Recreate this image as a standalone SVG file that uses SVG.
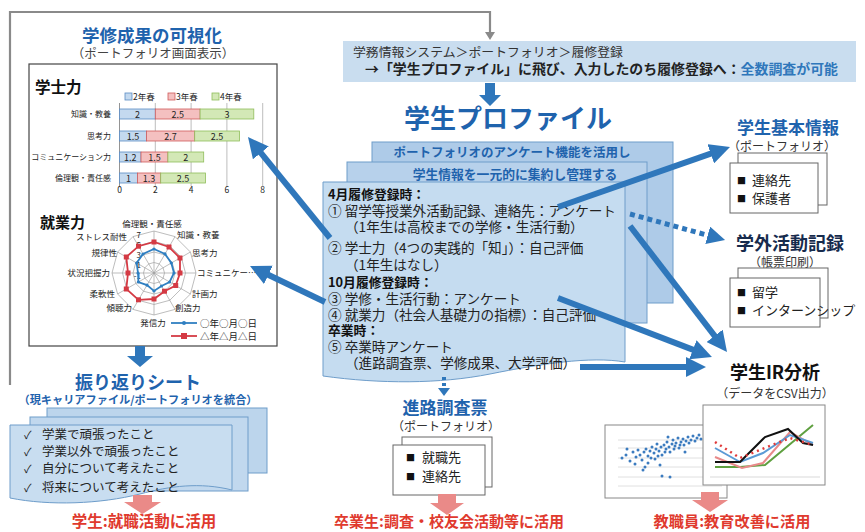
<svg xmlns="http://www.w3.org/2000/svg" width="865" height="532" viewBox="0 0 865 532">
<style>
text{font-family:"Noto Sans CJK JP","Noto Sans",sans-serif;}
.bt{fill:#1f63ad;font-weight:bold}
.red{fill:#e03a2e;font-weight:bold}
.dk{fill:#222}
.sm{font-size:8px;fill:#222}
.rl{font-size:8.5px;fill:#222}
.bv{font-size:9px;fill:#222;text-anchor:middle}
.sheet{stroke:#6e9dca;stroke-width:1}
.box{fill:#fff;stroke:#666;stroke-width:1}
.conn{stroke:#2f77bb;stroke-width:6;fill:none}
.pink{fill:#ea8a88}
.grid{stroke:#a0a0a0;stroke-width:0.7;fill:none}
.bB{fill:#c4d9ef;stroke:#5b8cc4;stroke-width:0.8}
.bR{fill:#f4c0c0;stroke:#d05a5a;stroke-width:0.8}
.bG{fill:#d3e8b6;stroke:#8fbd5a;stroke-width:0.8}
.it{font-size:13px;fill:#222}
.sq{font-size:9px;fill:#111}
.doc{font-size:13.6px;fill:#222}
.hd{font-size:12.8px;fill:#111;font-weight:bold}
</style>
<defs>
<marker id="ah" viewBox="0 0 10 10" refX="3" refY="5" markerWidth="3.4" markerHeight="3.4" orient="auto" markerUnits="strokeWidth"><path d="M0,0 L10,5 L0,10 Z" fill="#2f77bb"/></marker>
<marker id="ahd" viewBox="0 0 10 10" refX="3" refY="5" markerWidth="3.6" markerHeight="3.6" orient="auto" markerUnits="strokeWidth"><path d="M0,0 L10,5 L0,10 Z" fill="#2f77bb"/></marker>
</defs>
<rect width="865" height="532" fill="#fff"/>

<!-- Left panel -->
<g id="visualization">
<text x="152" y="42" class="bt" font-size="17.5" text-anchor="middle">学修成果の可視化</text>
<text x="153" y="58" font-size="12.5" fill="#444" text-anchor="middle">（ポートフォリオ画面表示）</text>
<rect x="29" y="64" width="248" height="282" fill="#fff" stroke="#444" stroke-width="1.2"/>
<text x="35" y="93" font-size="15.5" font-weight="bold" fill="#111">学士力</text>
<rect x="125" y="93" width="7" height="7" class="bB"/><text x="133" y="100" font-size="8.5" fill="#222">2年春</text>
<rect x="168" y="93" width="7" height="7" class="bR"/><text x="176" y="100" font-size="8.5" fill="#222">3年春</text>
<rect x="212" y="93" width="7" height="7" class="bG"/><text x="220" y="100" font-size="8.5" fill="#222">4年春</text>
<g class="grid">
<line x1="155.3" y1="103" x2="155.3" y2="186"/><line x1="191.1" y1="103" x2="191.1" y2="186"/><line x1="226.9" y1="103" x2="226.9" y2="186"/><line x1="262.7" y1="103" x2="262.7" y2="186"/>
</g>
<line x1="119.5" y1="103" x2="119.5" y2="186" stroke="#888" stroke-width="0.9"/>
<rect x="119.5" y="109" width="35.8" height="10" class="bB"/><rect x="155.3" y="109" width="44.8" height="10" class="bR"/><rect x="200.1" y="109" width="53.7" height="10" class="bG"/>
<rect x="119.5" y="131" width="26.9" height="10" class="bB"/><rect x="146.4" y="131" width="48.3" height="10" class="bR"/><rect x="194.7" y="131" width="44.8" height="10" class="bG"/>
<rect x="119.5" y="152" width="21.5" height="10" class="bB"/><rect x="141" y="152" width="26.9" height="10" class="bR"/><rect x="167.9" y="152" width="35.8" height="10" class="bG"/>
<rect x="119.5" y="173" width="17.9" height="10" class="bB"/><rect x="137.4" y="173" width="23.3" height="10" class="bR"/><rect x="160.7" y="173" width="44.8" height="10" class="bG"/>
<text x="137.4" y="117.5" class="bv">2</text><text x="177.7" y="117.5" class="bv">2.5</text><text x="227" y="117.5" class="bv">3</text>
<text x="133" y="139.5" class="bv">1.5</text><text x="170.6" y="139.5" class="bv">2.7</text><text x="217" y="139.5" class="bv">2.5</text>
<text x="130.3" y="160.5" class="bv">1.2</text><text x="154.4" y="160.5" class="bv">1.5</text><text x="185.7" y="160.5" class="bv">2</text>
<text x="128.5" y="181.5" class="bv">1</text><text x="149" y="181.5" class="bv">1.3</text><text x="183.1" y="181.5" class="bv">2.5</text>
<g class="sm" text-anchor="end" font-size="7.6">
<text x="111" y="117">知識・教養</text><text x="111" y="139">思考力</text><text x="111" y="160">コミュニケーション力</text><text x="111" y="181">倫理観・責任感</text>
</g>
<g font-size="8.5" fill="#222" text-anchor="middle">
<text x="119.5" y="193">0</text><text x="155.3" y="193">2</text><text x="191.1" y="193">4</text><text x="226.9" y="193">6</text><text x="262.7" y="193">8</text>
</g>
<text x="40" y="228" font-size="15" font-weight="bold" fill="#111">就業力</text>
<g class="grid" stroke="#8a8a8a">
<polygon points="154,231 175,236.6 190.4,252 196,273 190.4,294 175,309.4 154,315 133,309.4 117.6,294 112,273 117.6,252 133,236.6"/>
<polygon points="154,241.5 169.75,245.72 181.28,257.25 185.5,273 181.28,288.75 169.75,300.28 154,304.5 138.25,300.28 126.72,288.75 122.5,273 126.72,257.25 138.25,245.72"/>
<polygon points="154,252 164.5,254.81 172.19,262.5 175,273 172.19,283.5 164.5,291.19 154,294 143.5,291.19 135.81,283.5 133,273 135.81,262.5 143.5,254.81"/>
<polygon points="154,262.5 159.25,263.91 163.09,267.75 164.5,273 163.09,278.25 159.25,282.09 154,283.5 148.75,282.09 144.91,278.25 143.5,273 144.91,267.75 148.75,263.91"/>
<line x1="154" y1="231" x2="154" y2="315"/><line x1="175" y1="236.6" x2="133" y2="309.4"/><line x1="190.4" y1="252" x2="117.6" y2="294"/>
<line x1="196" y1="273" x2="112" y2="273"/><line x1="190.4" y1="294" x2="117.6" y2="252"/><line x1="175" y1="309.4" x2="133" y2="236.6"/>
</g>
<g font-size="8" fill="#222" text-anchor="end">
<text x="141" y="238">7</text><text x="141" y="247.5">5</text><text x="141" y="258">3</text><text x="141" y="268">1</text><text x="141" y="278.5">-1</text>
</g>
<polygon points="154,249 165,253.95 171.32,263 174,273 169.59,282 161.5,285.99 154,291 147,285.12 138.41,282 138,273 136.68,263 143,253.95" fill="none" stroke="#2f7fc1" stroke-width="1.8"/>
<polygon points="154,242 169,247 180,258 180,273 175.7,285.5 164.5,291.2 154,299 138.5,299.8 126.3,289 128,273 126.3,257 138.5,246.2" fill="none" stroke="#d43a44" stroke-width="1.8"/>
<g fill="#d43a44">
<rect x="151.5" y="239.5" width="5" height="5"/><rect x="166.5" y="244.5" width="5" height="5"/><rect x="177.5" y="255.5" width="5" height="5"/><rect x="177.5" y="270.5" width="5" height="5"/><rect x="173.2" y="283" width="5" height="5"/><rect x="162" y="288.7" width="5" height="5"/><rect x="151.5" y="296.5" width="5" height="5"/><rect x="136" y="297.3" width="5" height="5"/><rect x="123.8" y="286.5" width="5" height="5"/><rect x="125.5" y="270.5" width="5" height="5"/><rect x="123.8" y="254.5" width="5" height="5"/><rect x="136" y="243.7" width="5" height="5"/>
</g>
<g fill="#2f7fc1">
<circle cx="154" cy="249" r="1.6"/><circle cx="165" cy="253.95" r="1.6"/><circle cx="171.32" cy="263" r="1.6"/><circle cx="174" cy="273" r="1.6"/><circle cx="169.59" cy="282" r="1.6"/><circle cx="161.5" cy="286" r="1.6"/><circle cx="154" cy="291" r="1.6"/><circle cx="147" cy="285.1" r="1.6"/><circle cx="138.4" cy="282" r="1.6"/><circle cx="138" cy="273" r="1.6"/><circle cx="136.7" cy="263" r="1.6"/><circle cx="143" cy="254" r="1.6"/>
</g>
<g class="rl">
<text x="152" y="227" text-anchor="middle">倫理観・責任感</text>
<text x="177" y="238">知識・教養</text>
<text x="192" y="256">思考力</text>
<text x="197" y="276">コミュニケー…</text>
<text x="192" y="297">計画力</text>
<text x="175" y="311">創造力</text>
<text x="153" y="326" text-anchor="middle">発信力</text>
<text x="132" y="311" text-anchor="end">傾聴力</text>
<text x="115" y="297" text-anchor="end">柔軟性</text>
<text x="110" y="276" text-anchor="end">状況把握力</text>
<text x="117" y="256" text-anchor="end">規律性</text>
<text x="127" y="240" text-anchor="end">ストレス耐性</text>
</g>
<line x1="171" y1="323" x2="197" y2="323" stroke="#2f7fc1" stroke-width="1.8"/><circle cx="184" cy="323" r="2" fill="#2f7fc1"/>
<text x="200" y="326.5" font-size="9.5" fill="#222">○年○月○日</text>
<line x1="171" y1="336" x2="197" y2="336" stroke="#d43a44" stroke-width="1.8"/><rect x="181" y="333" width="6" height="6" fill="#d43a44"/>
<text x="200" y="339.5" font-size="9.5" fill="#222">△年△月△日</text>
</g>

<!-- Reflection sheet -->
<g id="reflection-sheet">
<text x="138" y="389" class="bt" font-size="18" text-anchor="middle">振り返りシート</text>
<text x="138" y="404" class="bt" font-size="11" text-anchor="middle" textLength="239" lengthAdjust="spacingAndGlyphs">（現キャリアファイル/ポートフォリオを統合）</text>
<rect x="47" y="408" width="220" height="65" fill="#bcd5ec" class="sheet"/>
<rect x="30" y="417" width="218" height="74" fill="#c1d8ee" class="sheet"/>
<path d="M10,425 H232 V490 C 200,482 170,486 140,494 C 100,504 50,506 10,498 Z" fill="#c8ddf0" class="sheet"/>
<g class="dk" font-size="12.5">
<text x="24" y="439" font-size="11">✓</text><text x="42" y="439">学業で頑張ったこと</text>
<text x="24" y="456" font-size="11">✓</text><text x="42" y="456">学業以外で頑張ったこと</text>
<text x="24" y="473" font-size="11">✓</text><text x="42" y="473">自分について考えたこと</text>
<text x="24" y="492" font-size="11">✓</text><text x="42" y="492">将来について考えたこと</text>
</g>
<text x="144" y="527" class="red" font-size="15.5" text-anchor="middle">学生:就職活動に活用</text>
</g>

<!-- Top registration box -->
<g id="registration">
<rect x="343" y="41" width="513" height="41" fill="#c9ddef"/>
<text x="353" y="57" font-size="12.5" fill="#333" textLength="270" lengthAdjust="spacingAndGlyphs">学務情報システム＞ポートフォリオ＞履修登録</text>
<text x="365" y="74" font-size="13.2" font-weight="bold" fill="#222" textLength="473" lengthAdjust="spacingAndGlyphs">→「学生プロファイル」に飛び、入力したのち履修登録へ：<tspan fill="#2f77bb">全数調査が可能</tspan></text>
</g>

<!-- Student profile -->
<g id="student-profile">
<text x="508" y="128" class="bt" font-size="26" text-anchor="middle">学生プロファイル</text>
<rect x="372" y="142" width="301" height="161" fill="#aecbe8" class="sheet"/>
<text x="512" y="157" class="bt" font-size="12.5" text-anchor="middle">ポートフォリオのアンケート機能を活用し</text>
<rect x="347" y="162" width="300" height="161" fill="#b7d1eb" class="sheet"/>
<text x="515" y="179" class="bt" font-size="12.8" text-anchor="middle">学生情報を一元的に集約し管理する</text>
<path d="M323,182 H625 V362 C 590,356 540,364 490,374 C 440,384 380,384 323,376 Z" fill="#c5dcf0" class="sheet"/>
<text x="328" y="198.5" class="hd">4月履修登録時：</text>
<text x="328" y="215.5" class="doc">① 留学等授業外活動記録、連絡先：アンケート</text>
<text x="345" y="232" class="doc">（1年生は高校までの学修・生活行動）</text>
<text x="328" y="253" class="doc">② 学士力（4つの実践的「知」）：自己評価</text>
<text x="345" y="270" class="doc">（1年生はなし）</text>
<text x="328" y="286.5" class="hd">10月履修登録時：</text>
<text x="328" y="303.5" class="doc">③ 学修・生活行動：アンケート</text>
<text x="328" y="319.5" class="doc">④ 就業力（社会人基礎力の指標）：自己評価</text>
<text x="328" y="335" class="hd">卒業時：</text>
<text x="328" y="352" class="doc">⑤ 卒業時アンケート</text>
<text x="345" y="368" class="doc">（進路調査票、学修成果、大学評価）</text>
</g>

<!-- Student basic info -->
<g id="basic-info">
<text x="788" y="134" class="bt" font-size="17" text-anchor="middle">学生基本情報</text>
<text x="782" y="151" font-size="12" fill="#333" text-anchor="middle">（ポートフォリオ）</text>
<rect x="738" y="153" width="89" height="52" class="box"/>
<rect x="730" y="163" width="88" height="50" class="box"/>
<text x="737" y="184" class="sq">■</text><text x="752" y="185" class="it">連絡先</text>
<text x="737" y="202" class="sq">■</text><text x="752" y="203" class="it">保護者</text>
</g>

<!-- Extracurricular record -->
<g id="activity-record">
<text x="790" y="250" font-size="18" font-weight="bold" fill="#172b4d" text-anchor="middle">学外活動記録</text>
<text x="785" y="267" font-size="12" fill="#333" text-anchor="middle">（帳票印刷）</text>
<rect x="738" y="268" width="90" height="50" class="box"/>
<rect x="730" y="278" width="90" height="49" class="box"/>
<text x="737" y="296" class="sq">■</text><text x="752" y="297" class="it">留学</text>
<text x="737" y="314" class="sq">■</text><text x="752" y="315" class="it" font-size="13.5">インターンシップ</text>
</g>

<!-- Career survey -->
<g id="career-survey">
<text x="445" y="414" class="bt" font-size="17" text-anchor="middle">進路調査票</text>
<text x="446" y="431" font-size="12" fill="#333" text-anchor="middle">（ポートフォリオ）</text>
<rect x="402" y="437" width="90" height="50" class="box"/>
<rect x="393" y="445" width="92" height="50" class="box"/>
<text x="406" y="461" class="sq">■</text><text x="422" y="462" class="it">就職先</text>
<text x="406" y="480" class="sq">■</text><text x="422" y="481" class="it">連絡先</text>
<text x="449" y="527" class="red" font-size="15" text-anchor="middle">卒業生:調査・校友会活動等に活用</text>
</g>

<!-- IR analysis -->
<g id="ir-analysis">
<text x="775" y="379" font-size="18" font-weight="bold" fill="#111" text-anchor="middle">学生IR分析</text>
<text x="775" y="398" font-size="12" fill="#333" text-anchor="middle">（データをCSV出力）</text>
<rect x="605" y="425" width="122" height="73" fill="#fff" stroke="#888" stroke-width="1"/>
<g stroke="#d8d8d8" stroke-width="0.8">
<line x1="618" y1="440" x2="722" y2="440"/><line x1="618" y1="448" x2="722" y2="448"/><line x1="618" y1="458" x2="722" y2="458"/><line x1="618" y1="467" x2="722" y2="467"/><line x1="618" y1="477" x2="722" y2="477"/><line x1="618" y1="486" x2="722" y2="486"/>
</g>
<g fill="#3b7bbf">
<circle cx="622" cy="458" r="1.5"/><circle cx="626" cy="455" r="1.5"/><circle cx="630" cy="461" r="1.5"/><circle cx="633" cy="452" r="1.5"/><circle cx="636" cy="457" r="1.5"/><circle cx="638" cy="450" r="1.5"/><circle cx="640" cy="455" r="1.5"/><circle cx="642" cy="460" r="1.5"/><circle cx="644" cy="452" r="1.5"/><circle cx="646" cy="449" r="1.5"/><circle cx="648" cy="456" r="1.5"/><circle cx="650" cy="451" r="1.5"/><circle cx="652" cy="447" r="1.5"/><circle cx="654" cy="453" r="1.5"/><circle cx="656" cy="449" r="1.5"/><circle cx="657" cy="444" r="1.5"/><circle cx="659" cy="451" r="1.5"/><circle cx="661" cy="447" r="1.5"/><circle cx="662" cy="455" r="1.5"/><circle cx="664" cy="445" r="1.5"/><circle cx="666" cy="449" r="1.5"/><circle cx="667" cy="442" r="1.5"/><circle cx="669" cy="447" r="1.5"/><circle cx="670" cy="452" r="1.5"/><circle cx="672" cy="444" r="1.5"/><circle cx="673" cy="440" r="1.5"/><circle cx="675" cy="446" r="1.5"/><circle cx="676" cy="443" r="1.5"/><circle cx="678" cy="438" r="1.5"/><circle cx="679" cy="448" r="1.5"/><circle cx="681" cy="442" r="1.5"/><circle cx="683" cy="439" r="1.5"/><circle cx="684" cy="445" r="1.5"/><circle cx="686" cy="441" r="1.5"/><circle cx="688" cy="437" r="1.5"/><circle cx="689" cy="443" r="1.5"/><circle cx="691" cy="440" r="1.5"/><circle cx="693" cy="436" r="1.5"/><circle cx="695" cy="441" r="1.5"/><circle cx="697" cy="438" r="1.5"/><circle cx="699" cy="435" r="1.5"/><circle cx="701" cy="439" r="1.5"/><circle cx="648" cy="463" r="1.5"/><circle cx="655" cy="459" r="1.5"/><circle cx="660" cy="465" r="1.5"/><circle cx="645" cy="467" r="1.5"/><circle cx="635" cy="464" r="1.5"/><circle cx="668" cy="437" r="1.5"/><circle cx="662" cy="476" r="1.5"/><circle cx="670" cy="477" r="1.5"/><circle cx="643" cy="470" r="1.5"/><circle cx="627" cy="449" r="1.5"/><circle cx="685" cy="452" r="1.5"/><circle cx="658" cy="456" r="1.5"/><circle cx="665" cy="452" r="1.5"/><circle cx="674" cy="449" r="1.5"/><circle cx="680" cy="445" r="1.5"/><circle cx="651" cy="458" r="1.5"/>
</g>
<rect x="703" y="405" width="122" height="80" fill="#fff" stroke="#888" stroke-width="1"/>
<line x1="710" y1="477" x2="820" y2="477" stroke="#cfcfcf" stroke-width="0.8"/>
<polyline points="715,467 740,467 765,465 813,425" fill="none" stroke="#5fa040" stroke-width="2"/>
<polyline points="715,457 742,468 763,463 790,432 813,445" fill="none" stroke="#e88a8a" stroke-width="2"/>
<polyline points="715,448 740,462 763,453 790,435 813,443" fill="none" stroke="#5b9bd5" stroke-width="2"/>
<polyline points="715,462 740,462 765,437 788,429 803,443 813,445" fill="none" stroke="#111" stroke-width="2"/>
<polyline points="715,442 740,458 767,447 790,438 813,445" fill="none" stroke="#e03a3a" stroke-width="2.5" stroke-dasharray="2 4"/>
<text x="732" y="527" class="red" font-size="15.2" text-anchor="middle">教職員:教育改善に活用</text>
</g>

<!-- Connectors -->
<g id="connectors">
<polyline points="10,385 10,12 490,12 490,33" fill="none" stroke="#8a8a8a" stroke-width="2.2"/>
<polygon points="485,32 495,32 490,40" fill="#8a8a8a"/>
<polygon points="485,83 495,83 495,95 501,95 490,106 479,95 485,95" fill="#2f77bb"/>
<polygon points="135,346 145,346 145,356 153,356 140,367 127,356 135,356" fill="#2f77bb"/>
<line x1="558" y1="207" x2="716.5" y2="151.7" class="conn" marker-end="url(#ah)"/>
<line x1="630" y1="214" x2="712.9" y2="236.7" stroke="#2f77bb" stroke-width="5" stroke-dasharray="5 4" marker-end="url(#ahd)"/>
<line x1="630" y1="226" x2="718.3" y2="340.7" class="conn" marker-end="url(#ah)"/>
<line x1="558" y1="298" x2="698.6" y2="351.9" class="conn" marker-end="url(#ah)"/>
<line x1="580" y1="367" x2="691.7" y2="367" class="conn" marker-end="url(#ah)"/>
<line x1="330" y1="238" x2="257" y2="148.1" class="conn" marker-end="url(#ah)"/>
<line x1="325" y1="302" x2="262.9" y2="272.2" class="conn" marker-end="url(#ah)"/>
<line x1="444" y1="377" x2="444" y2="389" stroke="#2f77bb" stroke-width="4" stroke-dasharray="3 3"/>
<polygon points="438,388 450,388 444,396" fill="#2f77bb"/>
<polygon points="133,495 152,495 152,502 161,502 142.5,514 124,502 133,502" class="pink"/>
<polygon points="438,494 456,494 456,503 464,503 447,515 430,503 438,503" class="pink"/>
<polygon points="701,492 719,492 719,500 728,500 710,512 692,500 701,500" class="pink"/>
</g>
</svg>
